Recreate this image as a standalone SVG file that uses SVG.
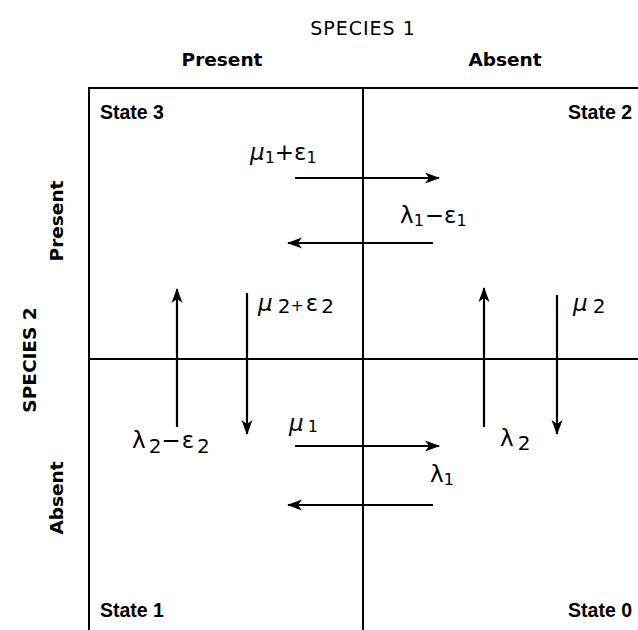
<svg xmlns="http://www.w3.org/2000/svg" width="638" height="630" viewBox="0 0 638 630">
<defs>
<marker id="ah" markerUnits="userSpaceOnUse" markerWidth="16" markerHeight="12" refX="14" refY="6" orient="auto">
<path d="M0,0.5 L15,6 L0,11.5 L4,6 Z" fill="#000"/>
</marker>
<style>
.lbl{font-family:"Liberation Sans","DejaVu Sans",sans-serif;font-weight:bold;font-size:19.5px;fill:#000}
.hd{font-family:"DejaVu Sans","Liberation Sans",sans-serif;font-weight:bold;font-size:18.5px;fill:#000}
.ttl{font-family:"DejaVu Sans","Liberation Sans",sans-serif;font-size:19px;fill:#000;letter-spacing:1px}
.gk{font-family:"DejaVu Sans",sans-serif;font-size:23px;fill:#000}
.sb{font-size:16px}
.s2{font-size:20px}
.mu{font-style:italic}
.grid{stroke:#000;stroke-width:2;fill:none}
.arr{stroke:#000;stroke-width:2.2;fill:none;marker-end:url(#ah)}
</style>
</defs>
<rect width="638" height="630" fill="#fff"/>
<g id="axes">
<text class="ttl" x="363" y="35" text-anchor="middle">SPECIES 1</text>
<text class="hd" x="222" y="66" text-anchor="middle">Present</text>
<text class="hd" x="505" y="66" text-anchor="middle">Absent</text>
<text class="hd" x="0" y="0" text-anchor="middle" transform="translate(36,360) rotate(-90)">SPECIES 2</text>
<text class="hd" x="0" y="0" text-anchor="middle" transform="translate(63,221) rotate(-90)">Present</text>
<text class="hd" x="0" y="0" text-anchor="middle" transform="translate(63,498) rotate(-90)">Absent</text>
</g>
<g id="grid">
<path class="grid" d="M89,630 V88 H638" stroke-width="2.6"/>
<line class="grid" x1="363" y1="88" x2="363" y2="630"/>
<line class="grid" x1="89" y1="359" x2="638" y2="359"/>
</g>
<g id="state3"><text class="lbl" x="100" y="119">State 3</text></g>
<g id="state2"><text class="lbl" x="632" y="119" text-anchor="end">State 2</text></g>
<g id="state1"><text class="lbl" x="100" y="617">State 1</text></g>
<g id="state0"><text class="lbl" x="632" y="617" text-anchor="end">State 0</text></g>
<g id="connectors">
<line class="arr" x1="295" y1="178" x2="439" y2="178"/>
<line class="arr" x1="433" y1="243" x2="288" y2="243"/>
<line class="arr" x1="177" y1="427" x2="177" y2="289"/>
<line class="arr" x1="247" y1="293" x2="247" y2="434"/>
<line class="arr" x1="484" y1="427" x2="484" y2="288"/>
<line class="arr" x1="557" y1="295" x2="557" y2="434"/>
<line class="arr" x1="295" y1="446" x2="439" y2="446"/>
<line class="arr" x1="433" y1="505" x2="288" y2="505"/>
</g>
<g id="rates">
<text class="gk" x="250" y="160"><tspan class="mu">μ</tspan><tspan class="sb" dy="3">1</tspan><tspan dy="-3">+ε</tspan><tspan class="sb" dy="3">1</tspan></text>
<text class="gk" x="400" y="223">λ<tspan class="sb" dy="3">1</tspan><tspan dx="1" dy="-3">−ε</tspan><tspan class="sb" dy="3">1</tspan></text>
<text class="gk" x="258" y="311"><tspan class="mu">μ</tspan><tspan class="s2" dx="5" dy="2">2</tspan><tspan dy="-2" class="sb">+</tspan><tspan dx="2">ε</tspan><tspan class="s2" dx="3" dy="2">2</tspan></text>
<text class="gk" x="573" y="311"><tspan class="mu">μ</tspan><tspan class="s2" dx="5" dy="2">2</tspan></text>
<text class="gk" x="132" y="448">λ<tspan class="s2" dx="3" dy="5">2</tspan><tspan dy="-5">−</tspan><tspan dx="1">ε</tspan><tspan class="s2" dx="3" dy="5">2</tspan></text>
<text class="gk" x="500" y="446">λ<tspan class="s2" dx="4" dy="4">2</tspan></text>
<text class="gk" x="289" y="431"><tspan class="mu">μ</tspan><tspan class="sb" dx="4" dy="1">1</tspan></text>
<text class="gk" x="430" y="482">λ<tspan class="sb" dy="3">1</tspan></text>
</g>
</svg>
